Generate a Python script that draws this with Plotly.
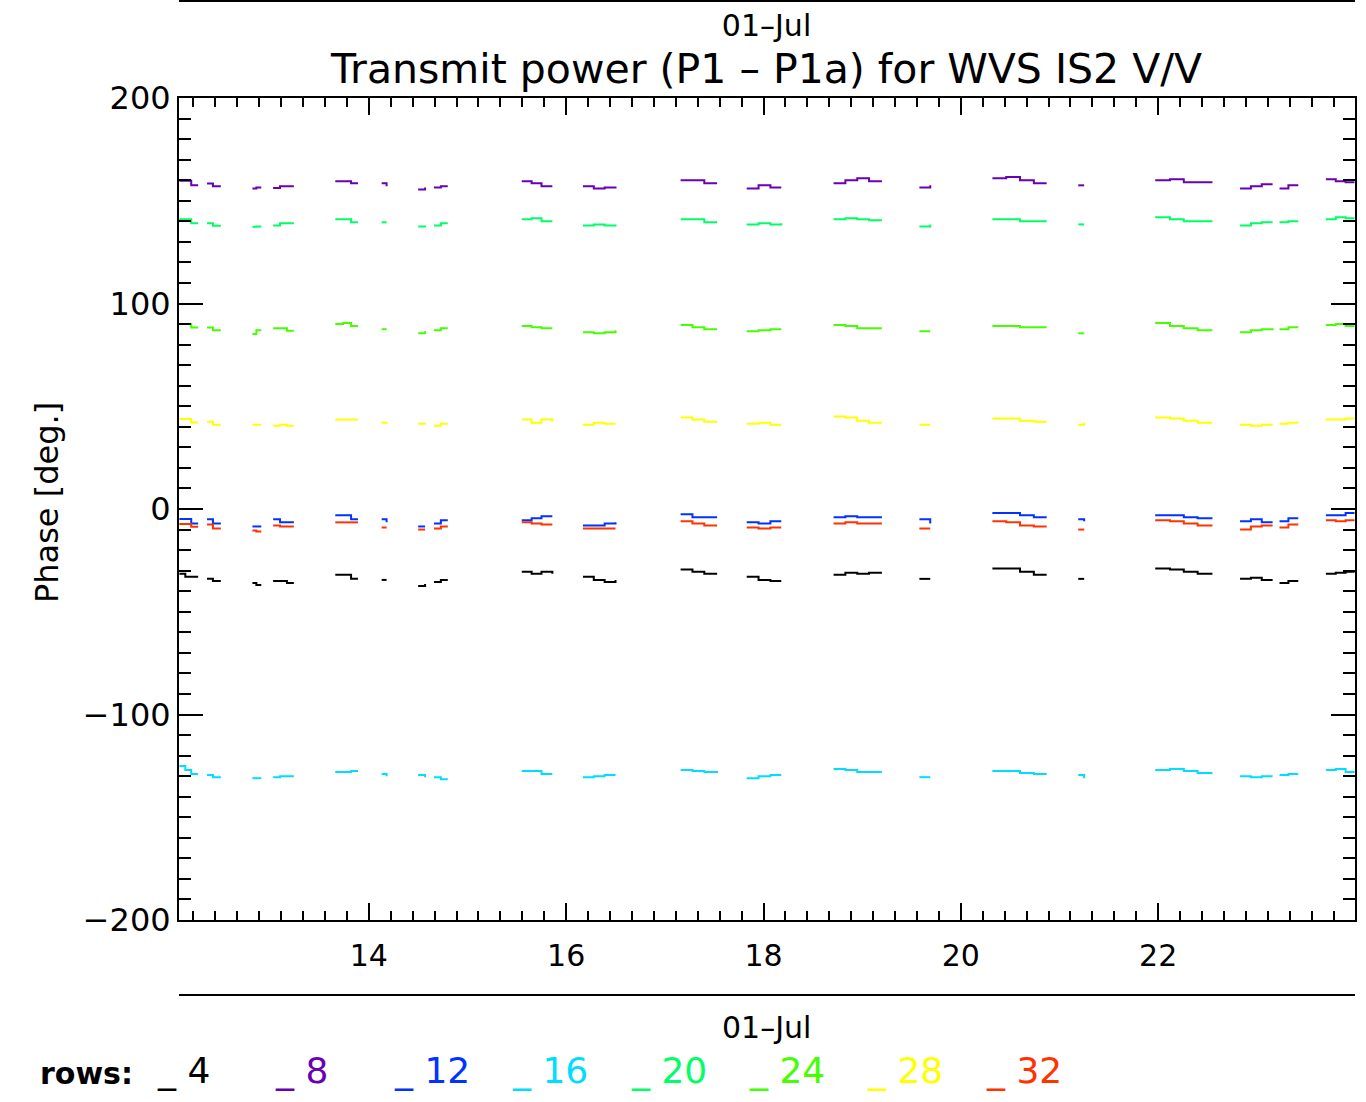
import plotly.graph_objects as go

# ---------------- data ----------------
rows = [4, 8, 12, 16, 20, 24, 28, 32]
row_colors = ["#000000", "#6a00b4", "#0033ff", "#00ddff",
              "#00ff66", "#44ff00", "#ffff00", "#ff3300"]

# step times (hours of 01-Jul) of each measurement segment
seg_times = [
    [12.08, 12.14, 12.20, 12.27],
    [12.36, 12.42, 12.50],
    [12.82, 12.86, 12.91],
    [13.03, 13.10, 13.17, 13.24],
    [13.66, 13.74, 13.82, 13.89],
    [14.13, 14.18],
    [14.50, 14.57],
    [14.66, 14.73, 14.80],
    [15.55, 15.65, 15.75, 15.86],
    [16.17, 16.28, 16.39, 16.50],
    [17.16, 17.28, 17.40, 17.53],
    [17.83, 17.95, 18.07, 18.18],
    [18.71, 18.83, 18.95, 19.07, 19.20],
    [19.58, 19.69],
    [20.32, 20.46, 20.60, 20.74, 20.87],
    [21.19, 21.25],
    [21.97, 22.12, 22.26, 22.40, 22.55],
    [22.83, 22.94, 23.05, 23.16],
    [23.23, 23.32, 23.42],
    [23.70, 23.80, 23.90, 23.99],
]

row4 = [
    [-31.5, -33, -33, -33], [-34, -35, -35], [-36, -37, -37], [-35, -35, -36, -36],
    [-32, -32, -34, -34], [-34.5, -34.5], [-37.5, -36.5], [-35.5, -34.5, -34.5],
    [-30.5, -31.5, -30.5, -31.5], [-33, -34.5, -35.5, -34.5], [-29.5, -30.5, -31.5, -31.5],
    [-33, -34.5, -35, -35], [-32, -31, -31.5, -31, -31], [-34, -34],
    [-29, -29, -30.5, -32, -32], [-34, -34], [-29, -29.5, -30.5, -31.5, -31.5],
    [-34, -33.5, -34.5, -34.5], [-36, -35, -35], [-31.5, -31, -30.5, -30.5],
]
row8 = [
    [159.7, 159.7, 157.6, 157.6], [158.4, 157, 157], [156, 156.5, 156.5], [156.2, 157, 157, 157],
    [159.5, 159.5, 158.5, 158.5], [158.5, 157], [155.5, 156.5], [156.5, 157, 157],
    [159.5, 158.5, 157, 157], [157, 156, 156.5, 156], [160, 160, 158.5, 158.5],
    [156, 157.5, 156.5, 156.5], [158.5, 160, 161, 159.5, 159.5], [156.5, 157.5],
    [161, 161.5, 160, 158.5, 158.5], [157.5, 157.5], [160, 160.5, 159, 159, 159],
    [156, 157, 158, 158], [156, 157.5, 157.5], [160.5, 159.5, 159, 159],
]
row12 = [
    [-4.9, -4.9, -7, -7], [-5, -7, -7], [-8.5, -8.5, -8.5], [-5, -6.5, -6.5, -6.5],
    [-3, -3, -5, -5], [-5, -6.5], [-8.5, -8.5], [-7, -5.5, -5.5],
    [-5.5, -4.5, -3.5, -3.5], [-8, -8, -7, -6.5], [-2.5, -4, -4, -4],
    [-6.5, -7, -6, -6], [-4, -3.5, -4, -4, -4], [-5, -7],
    [-2, -2, -3, -4, -4], [-5, -6], [-3, -3, -4, -4.5, -4.5],
    [-6, -5, -6.5, -6.5], [-6, -4.5, -4.5], [-3, -3, -2, -2],
]
row16 = [
    [-125, -127, -129, -129], [-129.5, -130.5, -130.5], [-131, -131, -131], [-130.5, -130, -130, -130],
    [-128, -128, -127.5, -127.5], [-129, -130], [-129.5, -130.5], [-130.5, -131.5, -131.5],
    [-127.5, -127.5, -129, -129], [-130.5, -130, -129.5, -129.5], [-127, -127.5, -128, -128.5],
    [-131, -130, -129.5, -129.5], [-126.5, -127, -128, -128, -128], [-130.5, -130.5],
    [-127.5, -127.5, -128.5, -129, -129], [-129.5, -131], [-127, -126.5, -127.5, -128.5, -128.5],
    [-130, -130.5, -130, -130], [-129.5, -129, -129], [-127, -126.5, -128, -128],
]
row20 = [
    [141, 141, 139, 139], [139, 137.8, 137.8], [137.3, 137.5, 137.5], [138, 139, 139, 139],
    [141, 141, 139.5, 139.5], [139.5, 139.5], [137.5, 138], [138, 139, 139],
    [141, 141.5, 140, 140], [138, 138.5, 138, 138.5], [141, 141, 139.5, 139.5],
    [138.5, 139, 138.5, 139], [141, 141.5, 141, 140.5, 140.5], [137.5, 138.5],
    [141, 141, 140, 140, 140], [138.5, 138.5], [142, 141, 140, 140, 140],
    [138, 139, 139.5, 139.5], [139.5, 140, 140], [141, 142, 141.5, 141.5],
]
row24 = [
    [90, 90, 88.3, 88.3], [88.3, 87, 87], [85.1, 87, 87], [88, 88, 86.7, 86.7],
    [90, 90.5, 89, 89], [87.5, 87.5], [85.5, 86.5], [87, 88, 88],
    [89, 88.5, 88, 88], [86, 85.5, 86, 87], [89.5, 88.5, 87.5, 87.5],
    [86.5, 87, 87.5, 87.5], [89.5, 89, 88, 88, 88], [86.5, 86.5],
    [89, 89, 88.5, 88.5, 88.5], [85.5, 85.5], [90.5, 89, 88, 87, 87],
    [86, 87, 87.5, 88], [87.5, 88.5, 88.5], [89.5, 90, 89, 89],
]
row28 = [
    [43.8, 43.8, 42.1, 42.1], [42.4, 41, 41], [41, 41, 41], [40.5, 41, 40.5, 40.5],
    [43.5, 43.5, 43.5, 43.5], [42, 41.5], [41.5, 41], [40.5, 41.5, 41.5],
    [43.5, 42, 43.5, 42.5], [41, 42, 41.5, 41.5], [44.5, 43.5, 42.5, 42.5],
    [41.5, 42, 41, 41], [45, 44.5, 43, 42, 42], [41, 41],
    [44, 44, 43, 42.5, 42.5], [41, 42], [44.5, 44, 43, 42, 42],
    [41, 40.5, 41, 41], [41.5, 42, 42], [43.5, 43.5, 44, 44],
]
row32 = [
    [-7.3, -7.3, -8.6, -8.6], [-7.5, -9.5, -9.5], [-10.5, -11, -11], [-8, -8.5, -8.5, -8.5],
    [-6.5, -6.5, -6.5, -6.5], [-9, -9], [-10, -10], [-9.5, -8.5, -8.5],
    [-6.5, -7, -7.5, -7.5], [-9.5, -9.5, -9.5, -9.5], [-6, -7, -8, -8],
    [-9, -9.5, -9, -9], [-7, -6.5, -7, -7, -7], [-9.5, -9.5],
    [-6, -6.5, -8, -8.5, -8.5], [-10, -10], [-5.5, -6, -7, -8, -8],
    [-10, -8.5, -8, -8], [-9, -7.5, -7.5], [-5.5, -6, -5.5, -5.5],
]
series = [row4, row8, row12, row16, row20, row24, row28, row32]

x_range = [12.076, 23.995]
y_range = [-200, 200]
x_ticks = [14, 16, 18, 20, 22]
y_ticks = [-200, -100, 0, 100, 200]

title_date = "01–Jul"
title_text = "Transmit power (P1 – P1a) for WVS IS2 V/V"
y_title = "Phase [deg.]"

# ---------------- figure ----------------
FONT = "DejaVu Sans"
W, H = 1366, 1102
L, R, T = 179, 11, 98
PW, PH = 1176, 822
B = H - T - PH


def px_x(p):
    return (p - L) / PW


def px_y(p):
    return (T + PH - p) / PH


fig = go.Figure()
for name, col, segs in zip(rows, row_colors, series):
    xs, ys = [], []
    for t, v in zip(seg_times, segs):
        xs += t + [None]
        ys += v + [None]
    fig.add_trace(go.Scatter(x=xs, y=ys, mode="lines", name=str(name),
                             line=dict(color=col, width=2, shape="hv"),
                             connectgaps=False, showlegend=False))

axis_common = dict(showgrid=False, zeroline=False, showline=True, linecolor="black",
                   linewidth=2, mirror="allticks", ticks="inside", tickcolor="black",
                   tickwidth=2)

fig.update_xaxes(range=x_range, tickmode="array", tickvals=x_ticks, ticklen=17,
                 minor=dict(dtick=2 / 9, tick0=0, ticklen=9, ticks="inside",
                            tickcolor="black", tickwidth=2),
                 ticklabelstandoff=8, tickfont=dict(family=FONT, size=30, color="black"),
                 **axis_common)
fig.update_yaxes(range=y_range, tickmode="array", tickvals=y_ticks, ticklen=24,
                 minor=dict(dtick=10, ticklen=12, ticks="inside",
                            tickcolor="black", tickwidth=2),
                 tickfont=dict(family=FONT, size=32, color="black"),
                 **axis_common)

ann = [
    dict(text=(f"<span style='font-size:30px'>{title_date}</span><br>"
               f"<span style='font-size:41px'>{title_text}</span>"),
         x=px_x(766), y=px_y(51), font=dict(size=36)),
    dict(text=y_title, x=px_x(47), y=px_y(503), font=dict(size=32), textangle=-90),
    dict(text=title_date, x=px_x(766), y=px_y(1027), font=dict(size=30)),
    dict(text="<b>rows:</b>", x=px_x(38), y=px_y(1073), xanchor="left", font=dict(size=30)),
]
for i, (name, col) in enumerate(zip(rows, row_colors)):
    ann.append(dict(text=f"_ {name}", x=px_x(155 + 118.4 * i), y=px_y(1070),
                    xanchor="left", font=dict(size=36, color=col)))

annotations = []
for a in ann:
    base = dict(xref="paper", yref="paper", showarrow=False, xanchor="center",
                yanchor="middle")
    base.update(a)
    f = dict(family=FONT, color="black")
    f.update(a.get("font", {}))
    base["font"] = f
    annotations.append(base)

shapes = [
    dict(type="line", xref="paper", yref="paper", x0=0, x1=1, y0=px_y(1), y1=px_y(1),
         line=dict(color="black", width=2)),
    dict(type="line", xref="paper", yref="paper", x0=0, x1=1, y0=px_y(995), y1=px_y(995),
         line=dict(color="black", width=2)),
]

fig.update_layout(width=W, height=H, margin=dict(l=L, r=R, t=T, b=B, autoexpand=False),
                  plot_bgcolor="white", paper_bgcolor="white",
                  font=dict(family=FONT, color="black"),
                  annotations=annotations, shapes=shapes)

fig.write_html("out.html", config={"displayModeBar": False},
               post_script="document.body.style.margin='0px';"
                           "document.body.style.overflow='hidden';")
